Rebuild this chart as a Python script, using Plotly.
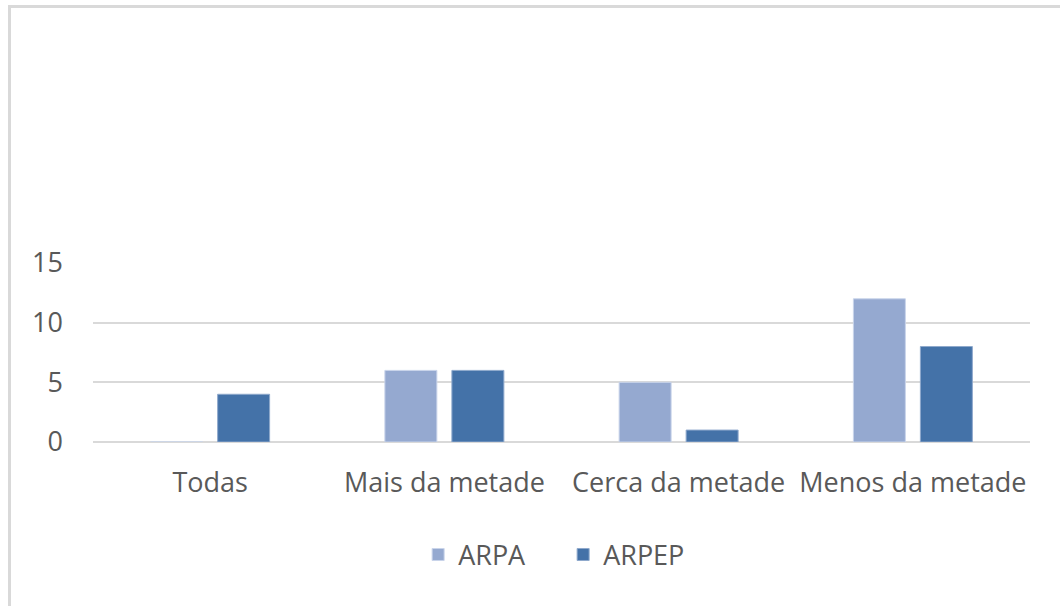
import plotly.graph_objects as go

categorias = ["Todas", "Mais da metade", "Cerca da metade", "Menos da metade"]
arpa = [0, 6, 5, 12]
arpep = [4, 6, 1, 8]

FONTE = "Open Sans"
CINZA = "#595959"
TAM = 27

fig = go.Figure()
fig.add_trace(
    go.Bar(
        name="ARPA",
        x=categorias,
        y=arpa,
        marker=dict(color="#95A9D0", line=dict(color="#C9D4EA", width=1)),
    )
)
fig.add_trace(
    go.Bar(
        name="ARPEP",
        x=categorias,
        y=arpep,
        marker=dict(color="#4472A8", line=dict(color="#8FA9CC", width=1)),
    )
)

# moldura (só topo e esquerda aparecem no recorte)
fig.add_shape(
    type="rect",
    xref="paper",
    yref="paper",
    x0=-0.0891,
    x1=1.3,
    y0=-3,
    y1=2.433,
    line=dict(color="#D9D9D9", width=3),
    layer="below",
)

fig.update_layout(
    width=1060,
    height=606,
    margin=dict(l=93, r=30, t=263, b=164),
    paper_bgcolor="white",
    plot_bgcolor="white",
    barmode="group",
    bargap=0.428,
    bargroupgap=0.224,
    font=dict(family=FONTE, size=TAM, color=CINZA),
    legend=dict(
        orientation="h",
        x=0.347,
        xanchor="left",
        y=-0.631,
        yanchor="middle",
        font=dict(size=TAM, color=CINZA),
        itemwidth=30,
        entrywidth=100,
        entrywidthmode="pixels",
    ),
    xaxis=dict(
        showgrid=False,
        showline=False,
        ticks="",
        ticklabelstandoff=22,
        tickfont=dict(size=TAM, color=CINZA),
    ),
    yaxis=dict(
        range=[0, 15],
        tickvals=[0, 5, 10, 15],
        showgrid=True,
        gridcolor="#D9D9D9",
        gridwidth=2,
        zeroline=True,
        zerolinecolor="#D9D9D9",
        zerolinewidth=2,
        showline=False,
        ticks="",
        ticklabelstandoff=29,
        tickfont=dict(size=TAM, color=CINZA),
    ),
)

fig.write_html(
    "out.html",
    config={"displayModeBar": False},
    post_script="document.body.style.margin='0';",
)
